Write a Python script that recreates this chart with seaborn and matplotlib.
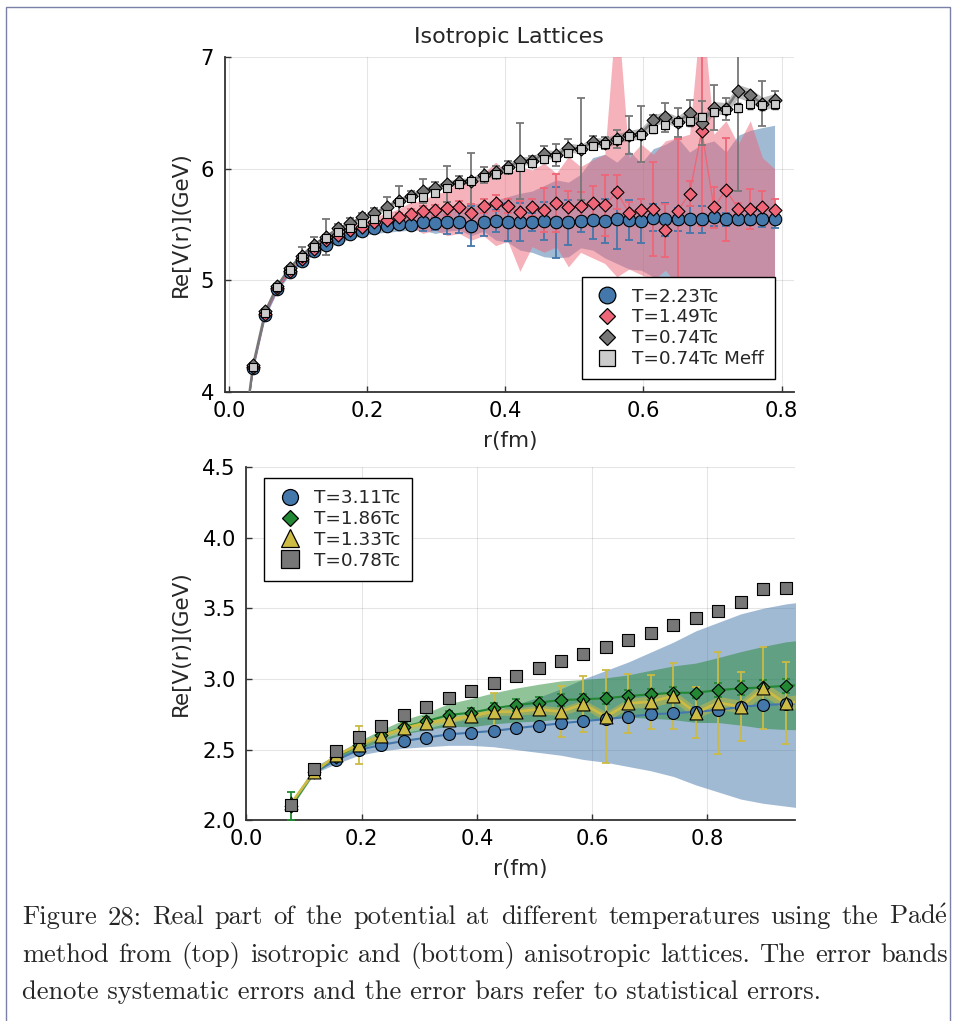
import matplotlib
matplotlib.use("Agg")
import matplotlib.pyplot as plt
from matplotlib.lines import Line2D
from matplotlib.patches import Rectangle
import numpy as np
import seaborn as sns

# ---------------- data: top panel (isotropic lattices) ----------------
r_top = [0.0176, 0.0351, 0.0527, 0.0702, 0.0878, 0.1053, 0.1229, 0.1404, 0.1580, 0.1755,
         0.1931, 0.2106, 0.2282, 0.2457, 0.2633, 0.2808, 0.2984, 0.3159, 0.3335, 0.3510,
         0.3686, 0.3861, 0.4037, 0.4212, 0.4388, 0.4563, 0.4739, 0.4914, 0.5090, 0.5265,
         0.5441, 0.5616, 0.5792, 0.5967, 0.6143, 0.6318, 0.6494, 0.6669, 0.6845, 0.7020,
         0.7196, 0.7371, 0.7547, 0.7722, 0.7898]

v_223 = [3.42, 4.21, 4.69, 4.92, 5.07, 5.17, 5.26, 5.32, 5.37, 5.414, 5.443, 5.465, 5.486, 5.501,
         5.50, 5.519, 5.510, 5.519, 5.524, 5.488, 5.519, 5.533, 5.519, 5.519, 5.524, 5.533, 5.519,
         5.519, 5.533, 5.540, 5.531, 5.546, 5.537, 5.531, 5.561, 5.546, 5.546, 5.546, 5.546, 5.566,
         5.546, 5.551, 5.546, 5.551, 5.546]
e_223 = [0.0, 0.01, 0.01, 0.01, 0.01, 0.01, 0.01, 0.01, 0.01, 0.03, 0.03, 0.03, 0.03, 0.03,
         0.03, 0.08, 0.06, 0.10, 0.10, 0.18, 0.12, 0.10, 0.17, 0.17, 0.08, 0.17, 0.32, 0.20, 0.10,
         0.17, 0.20, 0.27, 0.18, 0.20, 0.12, 0.15, 0.10, 0.12, 0.12, 0.08, 0.06, 0.05, 0.05, 0.07, 0.08]
lo_223 = [3.40, 4.19, 4.67, 4.90, 5.05, 5.15, 5.23, 5.29, 5.33, 5.37, 5.40, 5.42, 5.43, 5.44,
          5.45, 5.45, 5.42, 5.44, 5.45, 5.40, 5.44, 5.36, 5.34, 5.27, 5.25, 5.21, 5.20, 5.21, 5.29,
          5.27, 5.20, 5.15, 5.10, 5.09, 5.03, 5.00, 4.95, 4.90, 4.90, 4.85, 4.85, 4.80, 4.78, 4.75, 4.73]
hi_223 = [3.44, 4.23, 4.71, 4.95, 5.10, 5.20, 5.29, 5.36, 5.42, 5.46, 5.50, 5.52, 5.55, 5.57,
          5.58, 5.60, 5.62, 5.63, 5.65, 5.68, 5.70, 5.72, 5.75, 5.78, 5.80, 5.85, 5.90, 5.88, 5.95,
          6.10, 6.13, 6.06, 6.165, 6.05, 6.18, 6.22, 6.28, 6.15, 6.22, 6.25, 6.15, 6.30, 6.345, 6.37, 6.39]

v_149 = [3.42, 4.22, 4.70, 4.93, 5.08, 5.19, 5.28, 5.36, 5.41, 5.45, 5.479, 5.524, 5.540, 5.569,
         5.593, 5.623, 5.629, 5.644, 5.659, 5.605, 5.665, 5.695, 5.665, 5.609, 5.653, 5.629, 5.695,
         5.653, 5.668, 5.695, 5.671, 5.791, 5.605, 5.627, 5.641, 5.447, 5.620, 5.776, 6.338, 5.653,
         5.812, 5.641, 5.641, 5.653, 5.632]
e_149 = [0.0, 0.01, 0.01, 0.01, 0.01, 0.01, 0.01, 0.01, 0.01, 0.03, 0.03, 0.03, 0.03, 0.03,
         0.05, 0.04, 0.05, 0.06, 0.05, 0.08, 0.06, 0.07, 0.06, 0.10, 0.08, 0.20, 0.26, 0.15, 0.12,
         0.15, 0.27, 0.15, 0.10, 0.10, 0.42, 0.24, 0.65, 0.11, 0.85, 0.18, 0.46, 0.05, 0.18, 0.15, 0.10]
lo_149 = [3.40, 4.20, 4.68, 4.91, 5.06, 5.17, 5.26, 5.33, 5.37, 5.41, 5.43, 5.47, 5.48, 5.49,
          5.48, 5.42, 5.45, 5.40, 5.42, 5.36, 5.40, 5.31, 5.35, 5.08, 5.30, 5.25, 5.30, 5.12, 5.25,
          5.20, 5.15, 5.03, 5.10, 5.05, 5.00, 5.09, 4.95, 4.10, 4.90, 4.90, 4.85, 4.90, 4.88, 4.92, 4.95]
hi_149 = [3.44, 4.24, 4.72, 4.95, 5.10, 5.21, 5.30, 5.39, 5.45, 5.49, 5.53, 5.57, 5.60, 5.64,
          5.70, 5.71, 5.78, 5.79, 5.90, 5.84, 5.96, 6.06, 5.96, 6.02, 5.99, 6.05, 5.96, 6.11, 6.02,
          6.08, 6.13, 7.50, 6.10, 6.22, 6.13, 6.25, 6.28, 6.31, 7.50, 6.31, 6.43, 6.22, 6.43, 6.10, 6.00]

v_074 = [3.42, 4.24, 4.72, 4.95, 5.11, 5.22, 5.32, 5.39, 5.465, 5.51, 5.564, 5.60, 5.659, 5.713,
         5.755, 5.802, 5.829, 5.863, 5.883, 5.892, 5.943, 5.968, 6.013, 6.072, 6.072, 6.132, 6.123,
         6.189, 6.177, 6.240, 6.231, 6.270, 6.300, 6.314, 6.434, 6.464, 6.419, 6.500, 6.410, 6.548,
         6.539, 6.697, 6.659, 6.583, 6.614]
e_074 = [0.0, 0.02, 0.02, 0.02, 0.02, 0.08, 0.07, 0.16, 0.04, 0.05, 0.04, 0.05, 0.09, 0.13,
         0.05, 0.11, 0.05, 0.16, 0.05, 0.25, 0.07, 0.06, 0.06, 0.34, 0.04, 0.07, 0.10, 0.08, 0.46,
         0.05, 0.05, 0.08, 0.17, 0.25, 0.05, 0.13, 0.13, 0.12, 0.20, 0.20, 0.10, 0.90, 0.03, 0.20, 0.08]
hw_074 = [0.01, 0.01, 0.01, 0.01, 0.015, 0.015, 0.015, 0.02, 0.02, 0.02, 0.02, 0.02, 0.025, 0.025,
          0.03, 0.03, 0.03, 0.03, 0.03, 0.03, 0.035, 0.035, 0.035, 0.035, 0.04, 0.04, 0.04, 0.04,
          0.04, 0.04, 0.045, 0.045, 0.045, 0.05, 0.05, 0.05, 0.05, 0.05, 0.055, 0.055, 0.055, 0.06,
          0.06, 0.06, 0.06]

v_meff = [3.40, 4.223, 4.702, 4.935, 5.090, 5.210, 5.294, 5.375, 5.435, 5.465, 5.510, 5.546, 5.593,
          5.700, 5.740, 5.749, 5.785, 5.824, 5.863, 5.890, 5.923, 5.952, 5.995, 6.018, 6.048, 6.084,
          6.102, 6.138, 6.174, 6.204, 6.219, 6.260, 6.291, 6.300, 6.359, 6.390, 6.419, 6.428, 6.464,
          6.509, 6.530, 6.548, 6.578, 6.569, 6.583]
e_meff = [0.0, 0.01, 0.01, 0.01, 0.01, 0.01, 0.01, 0.015, 0.015, 0.015, 0.02, 0.02, 0.02, 0.02,
          0.02, 0.02, 0.02, 0.025, 0.025, 0.025, 0.025, 0.025, 0.03, 0.03, 0.03, 0.03, 0.03, 0.03,
          0.03, 0.03, 0.035, 0.035, 0.035, 0.035, 0.035, 0.035, 0.04, 0.04, 0.04, 0.04, 0.04, 0.04,
          0.045, 0.045, 0.045]

# ---------------- data: bottom panel (anisotropic lattices) ----------------
r_bot = [0.078, 0.117, 0.156, 0.195, 0.234, 0.273, 0.312, 0.351, 0.390, 0.429, 0.468, 0.507,
         0.546, 0.585, 0.624, 0.663, 0.702, 0.741, 0.780, 0.819, 0.858, 0.897, 0.936, 0.975]

v_311 = [2.11, 2.34, 2.426, 2.497, 2.533, 2.561, 2.584, 2.608, 2.620, 2.632, 2.651, 2.669,
         2.686, 2.702, 2.715, 2.733, 2.750, 2.757, 2.768, 2.780, 2.803, 2.815, 2.822, 2.83]
e_311 = [0.01, 0.01, 0.01, 0.01, 0.01, 0.01, 0.02, 0.02, 0.02, 0.02, 0.02, 0.02,
         0.02, 0.02, 0.03, 0.03, 0.03, 0.03, 0.03, 0.03, 0.03, 0.03, 0.03, 0.03]
lo_311 = [2.09, 2.33, 2.40, 2.46, 2.49, 2.51, 2.52, 2.53, 2.53, 2.52, 2.50, 2.48,
          2.46, 2.43, 2.41, 2.38, 2.35, 2.31, 2.25, 2.20, 2.15, 2.12, 2.10, 2.08]
hi_311 = [2.12, 2.38, 2.46, 2.54, 2.58, 2.62, 2.65, 2.69, 2.73, 2.77, 2.82, 2.87,
          2.93, 3.00, 3.06, 3.12, 3.19, 3.26, 3.34, 3.40, 3.46, 3.50, 3.53, 3.55]

v_186 = [2.10, 2.34, 2.45, 2.53, 2.60, 2.66, 2.70, 2.745, 2.761, 2.792, 2.815, 2.832,
         2.851, 2.856, 2.863, 2.879, 2.891, 2.902, 2.902, 2.921, 2.933, 2.94, 2.952, 2.96]
e_186 = [0.10, 0.02, 0.02, 0.02, 0.02, 0.03, 0.03, 0.03, 0.03, 0.04, 0.04, 0.04,
         0.04, 0.04, 0.04, 0.04, 0.04, 0.04, 0.04, 0.05, 0.05, 0.05, 0.05, 0.05]
hw_186 = [0.01, 0.015, 0.02, 0.03, 0.04, 0.05, 0.06, 0.08, 0.10, 0.11, 0.12, 0.13,
          0.135, 0.14, 0.145, 0.15, 0.17, 0.19, 0.21, 0.23, 0.26, 0.29, 0.31, 0.32]

v_133 = [2.12, 2.34, 2.46, 2.533, 2.598, 2.651, 2.69, 2.709, 2.738, 2.768, 2.768, 2.785,
         2.768, 2.822, 2.733, 2.827, 2.839, 2.879, 2.761, 2.832, 2.803, 2.933, 2.827, 2.85]
e_133 = [0.02, 0.02, 0.02, 0.133, 0.03, 0.03, 0.03, 0.03, 0.03, 0.135, 0.03, 0.03,
         0.18, 0.20, 0.33, 0.21, 0.19, 0.235, 0.18, 0.36, 0.245, 0.29, 0.29, 0.29]
hw_133 = [0.01, 0.01, 0.01, 0.015, 0.015, 0.02, 0.02, 0.02, 0.02, 0.025, 0.025, 0.03,
          0.03, 0.03, 0.035, 0.035, 0.04, 0.04, 0.04, 0.045, 0.045, 0.05, 0.05, 0.05]

v_078 = [2.108, 2.363, 2.492, 2.591, 2.669, 2.743, 2.799, 2.863, 2.917, 2.969, 3.023, 3.075,
         3.127, 3.174, 3.223, 3.275, 3.327, 3.381, 3.429, 3.482, 3.542, 3.634, 3.641, 3.70]

labels_top = ["T=2.23Tc", "T=1.49Tc", "T=0.74Tc", "T=0.74Tc Meff"]
labels_bot = ["T=3.11Tc", "T=1.86Tc", "T=1.33Tc", "T=0.78Tc"]
xticks = [0.0, 0.2, 0.4, 0.6, 0.8]
yticks_top = [4, 5, 6, 7]
yticks_bot = [2.0, 2.5, 3.0, 3.5, 4.0, 4.5]

caption = ["Figure 28: Real part of the potential at different temperatures using the Pad$\\mathrm{\\acute{e}}$",
           "method from (top) isotropic and (bottom) anisotropic lattices. The error bands",
           "denote systematic errors and the error bars refer to statistical errors."]

# ---------------- style ----------------
BLUE, RED, GRAY, LGRAY = "#4477AA", "#EE6677", "#777777", "#CCCCCC"
GREEN, YELLOW = "#228833", "#CCBB44"

sns.set_theme(style="white")
plt.rcParams['font.family'] = ['DejaVu Sans']
plt.rcParams['mathtext.fontset'] = 'cm'

W, H = 955, 1021
fig = plt.figure(figsize=(W / 100, H / 100), dpi=100)


def fx(px):
    return px / W


def fy(py):
    return 1 - py / H


ax1 = fig.add_axes([fx(224.5), fy(391.7), (794 - 224.5) / W, (391.7 - 57.3) / H])
ax2 = fig.add_axes([fx(246.3), fy(820.3), (795 - 246.3) / W, (820.3 - 466.8) / H])

TICKFS = 15.2


def style(ax):
    for s in ['top', 'right']:
        ax.spines[s].set_visible(False)
    for s in ['left', 'bottom']:
        ax.spines[s].set_color('#333333')
        ax.spines[s].set_linewidth(1.3)
    ax.tick_params(direction='in', length=4, width=1, colors='#333333',
                   labelcolor='black', labelsize=TICKFS, left=True, bottom=True)
    ax.tick_params(axis='x', pad=6.5)
    ax.tick_params(axis='y', pad=7.5)
    ax.grid(True, color='black', alpha=0.1, lw=0.8)
    ax.set_axisbelow(True)
    ax.set_facecolor('white')


def series(ax, x, y, color, marker, ms, yerr=None, lw=1.0, line=True, z=0,
           ecolor=None, capsize=3.2, elw=1.3):
    if line:
        sns.lineplot(x=x, y=y, ax=ax, color=color, lw=lw, estimator=None,
                     sort=False, legend=False, zorder=3 + z)
    if yerr is not None:
        ax.errorbar(x, y, yerr=yerr, fmt='none', ecolor=ecolor or color,
                    elinewidth=elw, capsize=capsize, capthick=elw, zorder=4 + z)
    sns.scatterplot(x=x, y=y, ax=ax, marker=marker, s=ms ** 2, color=color,
                    edgecolor='black', linewidth=0.8, legend=False, zorder=5 + z)


# ---------------- top panel ----------------
ax = ax1
style(ax)
ax.fill_between(r_top, lo_223, hi_223, color=BLUE, alpha=0.5, lw=0, zorder=1)
ax.fill_between(r_top, lo_149, hi_149, color=RED, alpha=0.5, lw=0, zorder=1)
ax.fill_between(r_top, np.array(v_074) - np.array(hw_074), np.array(v_074) + np.array(hw_074),
                color=GRAY, alpha=0.5, lw=0, zorder=1)
series(ax, r_top, v_223, BLUE, 'o', 9.0, e_223, lw=1.0, z=0)
series(ax, r_top, v_149, RED, 'D', 6.6, e_149, lw=1.0, z=0.1)
series(ax, r_top, v_074, GRAY, 'D', 6.6, e_074, lw=1.8, z=0.2)
series(ax, r_top, v_meff, LGRAY, 's', 5.4, e_meff, line=False, z=0.3, ecolor='#222222',
       capsize=2.5, elw=1.0)
ax.set_xlim(-0.0064, 0.818)
ax.set_ylim(4, 7)
ax.set_xticks(xticks)
ax.set_xticklabels([f"{t:.1f}" for t in xticks])
ax.set_yticks(yticks_top)
ax.set_yticklabels([str(t) for t in yticks_top])
ax.set_xlabel("")
ax.set_ylabel("")

LEGFS = 13.2
leg_kw = dict(loc='upper left', bbox_transform=fig.transFigure, borderaxespad=0,
              fontsize=LEGFS, frameon=True, fancybox=False, edgecolor='black',
              framealpha=1, borderpad=0.6, labelspacing=0.15, handlelength=1.55,
              handletextpad=0.58)
h_top = [Line2D([], [], ls='none', marker='o', ms=12.0, mfc=BLUE, mec='black', mew=0.9),
         Line2D([], [], ls='none', marker='D', ms=8.6, mfc=RED, mec='black', mew=0.9),
         Line2D([], [], ls='none', marker='D', ms=8.6, mfc=GRAY, mec='black', mew=0.9),
         Line2D([], [], ls='none', marker='s', ms=11.5, mfc=LGRAY, mec='black', mew=0.9)]
leg1 = ax.legend(h_top, labels_top, bbox_to_anchor=(fx(581.7), fy(276.7)), **leg_kw)
leg1.get_frame().set_linewidth(1.0)
leg1.set_zorder(20)

# ---------------- bottom panel ----------------
ax = ax2
style(ax)
ax.fill_between(r_bot, lo_311, hi_311, color=BLUE, alpha=0.5, lw=0, zorder=1)
ax.fill_between(r_bot, np.array(v_186) - np.array(hw_186), np.array(v_186) + np.array(hw_186),
                color=GREEN, alpha=0.5, lw=0, zorder=1)
ax.fill_between(r_bot, np.array(v_133) - np.array(hw_133), np.array(v_133) + np.array(hw_133),
                color=YELLOW, alpha=0.5, lw=0, zorder=1)
series(ax, r_bot, v_311, BLUE, 'o', 8.6, e_311, lw=1.5, z=0, capsize=2.9)
series(ax, r_bot, v_186, GREEN, 'D', 6.5, e_186, lw=1.5, z=0.1, capsize=2.9)
series(ax, r_bot, v_133, YELLOW, '^', 9.3, e_133, lw=2.0, z=0.2, capsize=2.9)
series(ax, r_bot, v_078, GRAY, 's', 9.2, None, line=False, z=0.3)
ax.set_xlim(0, 0.952)
ax.set_ylim(2.0, 4.5)
ax.set_xticks(xticks)
ax.set_xticklabels([f"{t:.1f}" for t in xticks])
ax.set_yticks(yticks_bot)
ax.set_yticklabels([f"{t:.1f}" for t in yticks_bot])
ax.set_xlabel("")
ax.set_ylabel("")

h_bot = [Line2D([], [], ls='none', marker='o', ms=11.5, mfc=BLUE, mec='black', mew=0.9),
         Line2D([], [], ls='none', marker='D', ms=8.2, mfc=GREEN, mec='black', mew=0.9),
         Line2D([], [], ls='none', marker='^', ms=12.5, mfc=YELLOW, mec='black', mew=0.9),
         Line2D([], [], ls='none', marker='s', ms=12.5, mfc=GRAY, mec='black', mew=0.9)]
leg2 = ax.legend(h_bot, labels_bot, bbox_to_anchor=(fx(264.3), fy(478.3)), **leg_kw)
leg2.get_frame().set_linewidth(1.0)
leg2.set_zorder(20)

# ---------------- labels ----------------
LABFS = 15.5
fig.text(fx(509), fy(37), "Isotropic Lattices", ha='center', va='center', fontsize=16)
fig.text(fx(181), fy(224.5), "Re[V(r)](GeV)", rotation=90, ha='center', va='center', fontsize=LABFS)
fig.text(fx(510), fy(441), "r(fm)", ha='center', va='center', fontsize=LABFS)
fig.text(fx(181), fy(643.5), "Re[V(r)](GeV)", rotation=90, ha='center', va='center', fontsize=LABFS)
fig.text(fx(520), fy(869), "r(fm)", ha='center', va='center', fontsize=LABFS)

# ---------------- page border ----------------
fig.patches.append(Rectangle((fx(6), fy(1040)), fx(950) - fx(6), fy(7) - fy(1040),
                             transform=fig.transFigure, fill=False, edgecolor='#7A80A6',
                             lw=1.0, zorder=0))

# ---------------- caption (justified) ----------------
cap_family = ['cmr10', 'DejaVu Serif']
renderer = fig.canvas.get_renderer()
probe = fig.text(0, 0, caption[2], fontsize=10, family=cap_family)
wnat = probe.get_window_extent(renderer).width
probe.remove()
capfs = 10 * (822 - 22) / wnat
left, right = 22, 948
baselines = [924, 961.5, 999]
for i, line in enumerate(caption):
    if i < 2:
        words = line.split(' ')
        ws = []
        for w in words:
            t = fig.text(0, 0, w, fontsize=capfs, family=cap_family)
            ws.append(t.get_window_extent(renderer).width)
            t.remove()
        gap = (right - left - sum(ws)) / (len(words) - 1)
        xpos = left
        for w, wd in zip(words, ws):
            fig.text(fx(xpos), fy(baselines[i]), w, fontsize=capfs, family=cap_family,
                     ha='left', va='baseline')
            xpos += wd + gap
    else:
        fig.text(fx(left), fy(baselines[i]), line, fontsize=capfs, family=cap_family,
                 ha='left', va='baseline')

fig.savefig("out.png", dpi=100, facecolor='white')
